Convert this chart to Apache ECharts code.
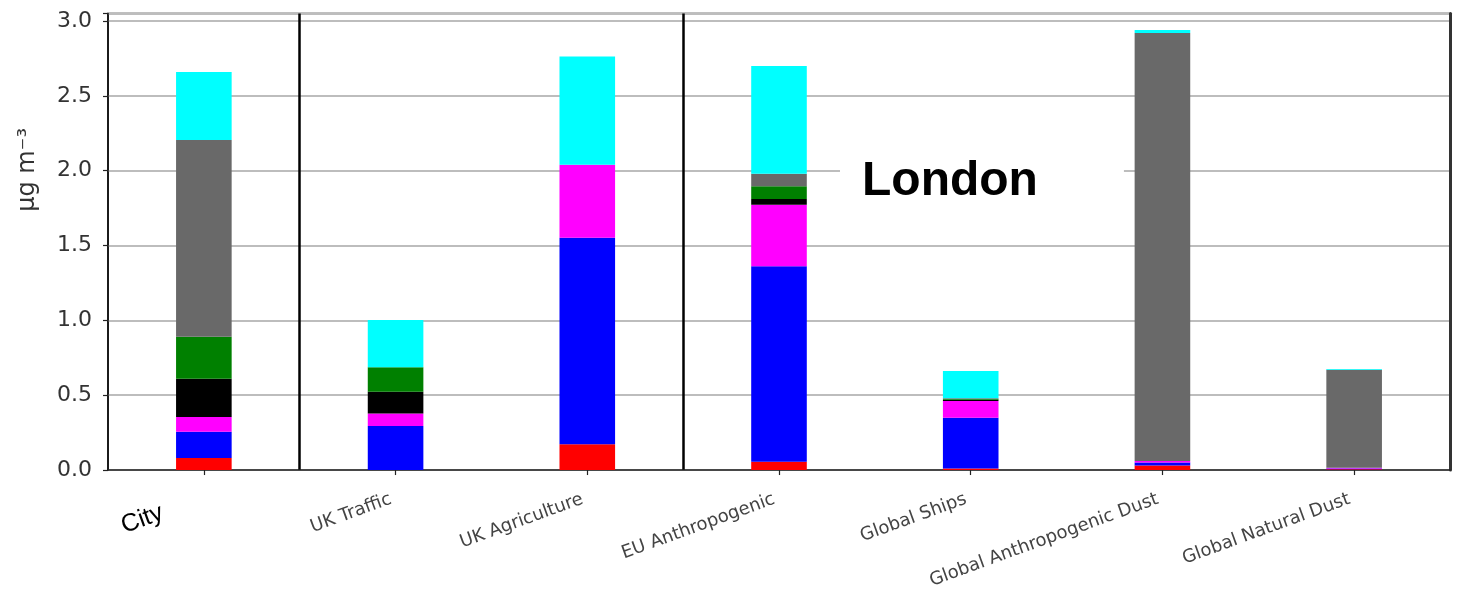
<!DOCTYPE html>
<html>
<head>
<meta charset="utf-8">
<title>London PM source contributions</title>
<script src="https://cdn.jsdelivr.net/npm/echarts@6/dist/echarts.min.js"></script>
<style>
  html, body { margin: 0; padding: 0; background: #fff; }
  #chart { width: 1460px; height: 591px; }
</style>
</head>
<body>
<div id="chart"></div>
<script>
// Source sectors (x axis)
const categories = ['City', 'UK Traffic', 'UK Agriculture', 'EU Anthropogenic',
  'Global Ships', 'Global Anthropogenic Dust', 'Global Natural Dust'];

// Stacked components, bottom to top (µg m^-3)
const redVals     = [0.080, 0.000, 0.173, 0.055, 0.010, 0.030, 0.005];
const blueVals    = [0.175, 0.295, 1.378, 1.307, 0.340, 0.020, 0.005];
const magentaVals = [0.100, 0.083, 0.489, 0.411, 0.111, 0.010, 0.005];
const blackVals   = [0.255, 0.145, 0.000, 0.038, 0.008, 0.000, 0.000];
const greenVals   = [0.280, 0.163, 0.000, 0.085, 0.006, 0.000, 0.000];
const grayVals    = [1.315, 0.000, 0.000, 0.084, 0.004, 2.860, 0.655];
const cyanVals    = [0.455, 0.317, 0.722, 0.720, 0.182, 0.020, 0.005];

const yTicks = ['0.0', '0.5', '1.0', '1.5', '2.0', '2.5', '3.0'];

const components = [
  { name: 'red', data: redVals, color: '#ff0000' },
  { name: 'blue', data: blueVals, color: '#0000ff' },
  { name: 'magenta', data: magentaVals, color: '#ff00ff' },
  { name: 'black', data: blackVals, color: '#000000' },
  { name: 'green', data: greenVals, color: '#008000' },
  { name: 'gray', data: grayVals, color: '#696969' },
  { name: 'cyan', data: cyanVals, color: '#00ffff' }
];

const chart = echarts.init(document.getElementById('chart'), null, { renderer: 'canvas' });

const option = {
  animation: false,
  backgroundColor: '#ffffff',
  title: {
    text: 'London',
    left: 840,
    top: 148,
    padding: [10, 86, 10, 22],
    backgroundColor: '#ffffff',
    textStyle: {
      fontFamily: 'Liberation Sans, Arial, sans-serif',
      fontWeight: 'bold',
      fontSize: 48,
      color: '#000000'
    }
  },
  grid: { left: 108, right: 10, top: 13.5, bottom: 120, containLabel: false,
    show: true, borderColor: '#000', borderWidth: 1.5 },
  xAxis: {
    type: 'category',
    data: categories,
    boundaryGap: true,
    axisLine: { show: true, lineStyle: { color: '#222', width: 1.5 } },
    axisTick: { show: true, alignWithLabel: true, length: 5, lineStyle: { color: '#222', width: 1.2 } },
    splitLine: {
      show: true,
      interval: function (i) { return i === 1 || i === 3; },
      lineStyle: { color: '#000', width: 2.5 }
    },
    axisLabel: {
      interval: 0,
      rotate: 20,
      margin: 27,
      fontFamily: 'DejaVu Sans, sans-serif',
      fontSize: 18,
      color: '#444',
      formatter: function (v, i) { return i === 0 ? '{city|' + v + '}' : '{std|' + v + '}'; },
      rich: {
        std: {
          fontFamily: 'DejaVu Sans, sans-serif',
          fontSize: 18,
          color: '#444',
          padding: [0, 5, 0, 0]
        },
        city: {
          fontFamily: 'Liberation Sans, Arial, sans-serif',
          fontSize: 25,
          color: '#000',
          padding: [0, 44, 0, 0]
        }
      }
    }
  },
  yAxis: [{
    type: 'value',
    min: 0,
    max: 3.05,
    interval: 0.5,
    axisLine: { show: true, lineStyle: { color: '#111', width: 1.5 } },
    axisTick: { show: true, length: 5, lineStyle: { color: '#222', width: 1.2 } },
    splitLine: { show: true, lineStyle: { color: '#bdbdbd', width: 1.8 } },
    axisLabel: {
      margin: 16,
      fontFamily: 'DejaVu Sans, sans-serif',
      fontSize: 22,
      color: '#333',
      formatter: function (v) {
        const idx = Math.round(v / 0.5);
        return Math.abs(v - idx * 0.5) < 1e-6 ? yTicks[idx] : '';
      }
    }
  }, {
    // right-hand frame edge
    type: 'value',
    position: 'right',
    min: 0,
    max: 3.05,
    axisLine: { show: true, lineStyle: { color: '#333', width: 3 } },
    axisTick: { show: false },
    axisLabel: { show: false },
    splitLine: { show: false }
  }],
  graphic: [{
    type: 'text',
    left: 16,
    top: 128,
    rotation: Math.PI / 2,
    style: {
      text: 'μg m⁻³',
      fontFamily: 'DejaVu Sans, sans-serif',
      fontSize: 24,
      fill: '#333'
    }
  }],
  series: components.map(c => ({
    name: c.name,
    type: 'bar',
    stack: 'total',
    barWidth: '29%',
    data: c.data,
    itemStyle: { color: c.color },
    emphasis: { disabled: true }
  }))
};

chart.setOption(option);
</script>
</body>
</html>
